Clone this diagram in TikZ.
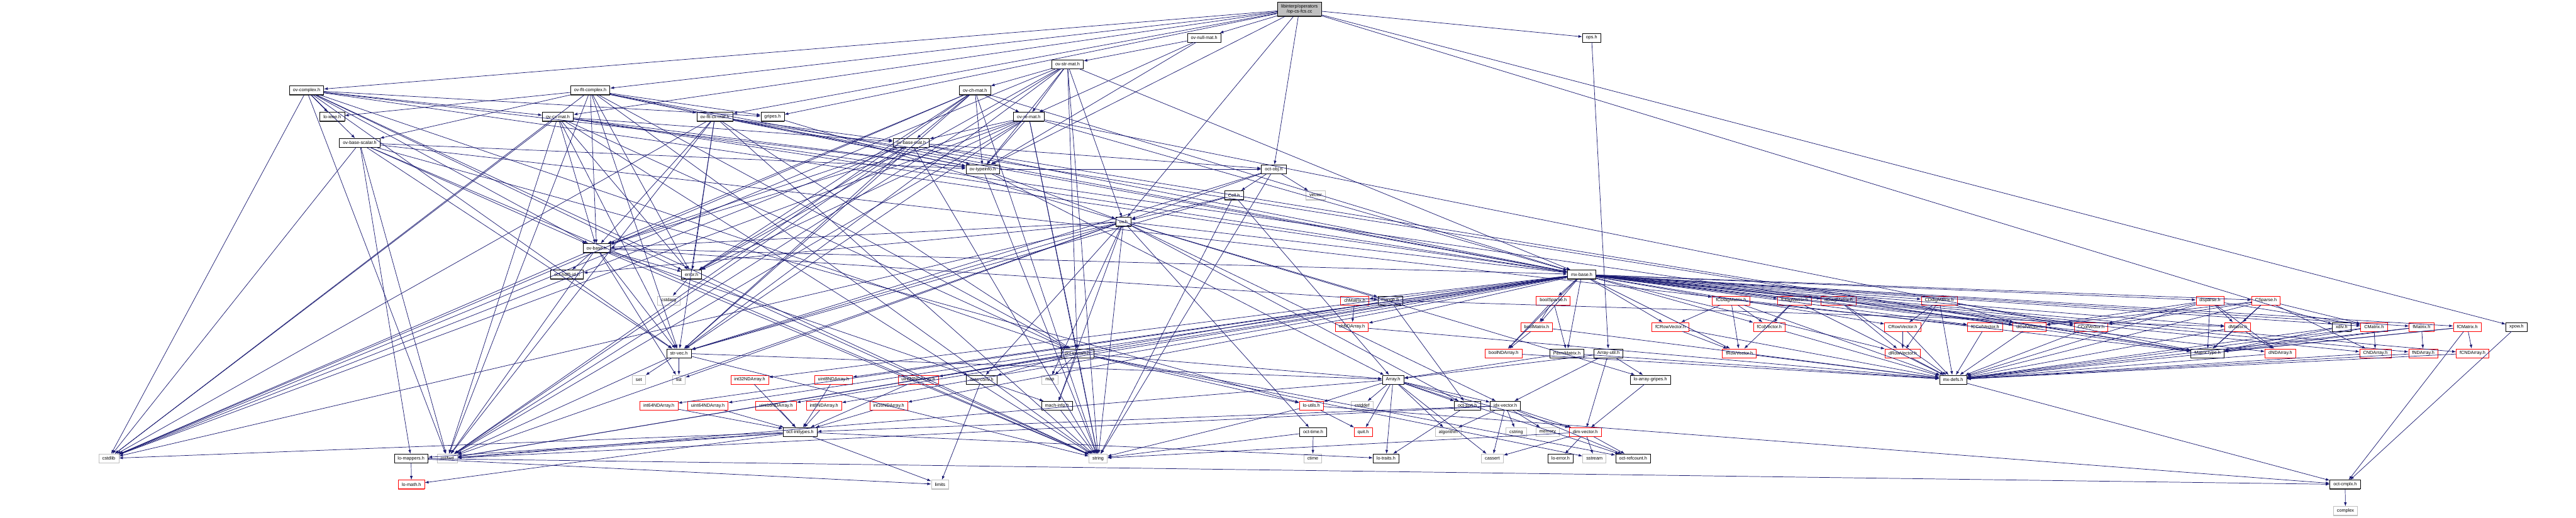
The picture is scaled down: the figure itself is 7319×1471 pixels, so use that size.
\documentclass[tikz,border=0pt]{standalone}
\usepackage{fontspec}
\setmainfont{Liberation Sans}
\usetikzlibrary{arrows.meta}
\definecolor{cedge}{HTML}{191970}
\definecolor{cgrey}{HTML}{BFBFBF}
\definecolor{cred}{HTML}{FF0000}
\tikzset{
  file/.style={draw=black, fill=white, line width=1.2pt, minimum height=25pt,
    inner xsep=10pt, inner ysep=2pt, font=\fontsize{13}{15}\selectfont,
    append after command={\pgfextra{\draw[line width=2.4pt, black!70]
      (\tikzlastnode.south west) -- (\tikzlastnode.south east);}}},
  trunc/.style={draw=cred, fill=white, line width=1.2pt, minimum height=25pt,
    inner xsep=10pt, inner ysep=2pt, font=\fontsize{13}{15}\selectfont,
    append after command={\pgfextra{\draw[line width=2.4pt, cred!70]
      (\tikzlastnode.south west) -- (\tikzlastnode.south east);}}},
  sys/.style={draw=cgrey, fill=white, line width=1.2pt, minimum height=25pt,
    inner xsep=10pt, inner ysep=2pt, font=\fontsize{13}{15}\selectfont,
    append after command={\pgfextra{\draw[line width=2.4pt, cgrey]
      (\tikzlastnode.south west) -- (\tikzlastnode.south east);}}},
  topfile/.style={file, fill=cgrey, align=center, minimum height=40pt},
  dep/.style={cedge, line width=1.3pt, -{Latex[length=11pt,width=8pt]}}
}
\begin{document}
\begin{tikzpicture}[x=1pt, y=-1pt]
\useasboundingbox (0,0) rectangle (7319,1471);
%% the file itself
\node[topfile] (root) at (3692,26) {libinterp/operators\\/op-cs-fcs.cc};
%% octave value headers
\node[file] (ovnullmat) at (3421,107) {ov-null-mat.h};
\node[file] (ops) at (4522,107) {ops.h};
\node[file] (ovstrmat) at (3033,182) {ov-str-mat.h};
\node[file] (ovcomplex) at (871,257) {ov-complex.h};
\node[file] (ovfltcomplex) at (1677,257) {ov-flt-complex.h};
\node[file] (ovchmat) at (2770,257) {ov-ch-mat.h};
\node[file] (loieee) at (944,332) {lo-ieee.h};
\node[file] (ovcxmat) at (1585,332) {ov-cx-mat.h};
\node[file] (ovfltcxmat) at (2031,332) {ov-flt-cx-mat.h};
\node[file] (gripes) at (2195,332) {gripes.h};
\node[file] (ovremat) at (2923,332) {ov-re-mat.h};
\node[file] (ovbasescalar) at (1022,406) {ov-base-scalar.h};
\node[file] (ovbasemat) at (2589,406) {ov-base-mat.h};
\node[file] (ovtypeinfo) at (2792,481) {ov-typeinfo.h};
\node[file] (octobj) at (3619,481) {oct-obj.h};
\node[file] (cell) at (3506,555) {Cell.h};
\node[sys] (vector) at (3738,555) {vector};
\node[file] (ov) at (3192,630) {ov.h};
\node[file] (ovbase) at (1695,705) {ov-base.h};
\node[file] (octhdf) at (1611,780) {oct-hdf5-id.h};
\node[file] (errorh) at (1965,780) {error.h};
\node[file] (mxbase) at (4494,780) {mx-base.h};
\node[sys] (cstdarg) at (1900,854) {cstdarg};
%% matrix classes
\node[trunc] (chMatrix) at (3849,854) {chMatrix.h};
\node[file] (Range) at (3950,854) {Range.h};
\node[trunc] (boolSparse) at (4413,854) {boolSparse.h};
\node[trunc] (fCDiagMatrix) at (4918,854) {fCDiagMatrix.h};
\node[trunc] (fDiagMatrix) at (5099,854) {fDiagMatrix.h};
\node[trunc] (dDiagMatrix) at (5224,854) {dDiagMatrix.h};
\node[trunc] (CDiagMatrix) at (5510,854) {CDiagMatrix.h};
\node[trunc] (dSparse) at (6279,854) {dSparse.h};
\node[trunc] (CSparse) at (6438,854) {CSparse.h};
\node[trunc] (chNDArray) at (3841,929) {chNDArray.h};
\node[trunc] (boolMatrix) at (4366,929) {boolMatrix.h};
\node[trunc] (fCRowVector) at (4746,929) {fCRowVector.h};
\node[trunc] (fColVector) at (5027,929) {fColVector.h};
\node[trunc] (CRowVector) at (5406,929) {CRowVector.h};
\node[trunc] (fCColVector) at (5640,929) {fCColVector.h};
\node[trunc] (dColVector) at (5766,929) {dColVector.h};
\node[trunc] (CColVector) at (5941,929) {CColVector.h};
\node[trunc] (dMatrix) at (6358,929) {dMatrix.h};
\node[file] (xdiv) at (6653,929) {xdiv.h};
\node[trunc] (CMatrix) at (6745,929) {CMatrix.h};
\node[trunc] (fMatrix) at (6880,929) {fMatrix.h};
\node[trunc] (fCMatrix) at (7010,929) {fCMatrix.h};
\node[file] (xpow) at (7150,929) {xpow.h};
\node[file] (strvec) at (1929,1004) {str-vec.h};
\node[file] (octstream) at (3061,1004) {oct-stream.h};
\node[trunc] (boolNDArray) at (4272,1004) {boolNDArray.h};
\node[file] (PermMatrix) at (4452,1004) {PermMatrix.h};
\node[file] (Arrayutil) at (4570,1004) {Array-util.h};
\node[trunc] (fRowVector) at (4942,1004) {fRowVector.h};
\node[trunc] (dRowVector) at (5406,1004) {dRowVector.h};
\node[file] (MatrixType) at (6272,1004) {MatrixType.h};
\node[trunc] (dNDArray) at (6479,1004) {dNDArray.h};
\node[trunc] (CNDArray) at (6749,1004) {CNDArray.h};
\node[trunc] (fNDArray) at (6885,1004) {fNDArray.h};
\node[trunc] (fCNDArray) at (7025,1004) {fCNDArray.h};
%% integer arrays and liboctave utilities
\node[sys] (setn) at (1815,1079) {set};
\node[sys] (listn) at (1929,1079) {list};
\node[trunc] (int32) at (2130,1079) {int32NDArray.h};
\node[trunc] (uint8) at (2368,1079) {uint8NDArray.h};
\node[trunc] (uint32) at (2609,1079) {uint32NDArray.h};
\node[file] (dataconv) at (2789,1079) {data-conv.h};
\node[sys] (mapn) at (2983,1079) {map};
\node[file] (Array) at (3958,1079) {Array.h};
\node[file] (loarraygripes) at (4689,1079) {lo-array-gripes.h};
\node[file] (mxdefs) at (5549,1079) {mx-defs.h};
\node[trunc] (int64) at (1872,1153) {int64NDArray.h};
\node[trunc] (uint64) at (2011,1153) {uint64NDArray.h};
\node[trunc] (uint16) at (2205,1153) {uint16NDArray.h};
\node[trunc] (int8) at (2341,1153) {int8NDArray.h};
\node[trunc] (int16) at (2525,1153) {int16NDArray.h};
\node[file] (machinfo) at (3003,1153) {mach-info.h};
\node[trunc] (loutils) at (3726,1153) {lo-utils.h};
\node[sys] (cstddef) at (3870,1153) {cstddef};
\node[file] (octsort) at (4169,1153) {oct-sort.h};
\node[file] (idxvector) at (4277,1153) {idx-vector.h};
\node[file] (octinttypes) at (2273,1228) {oct-inttypes.h};
\node[file] (octtime) at (3731,1228) {oct-time.h};
\node[trunc] (quit) at (3873,1228) {quit.h};
\node[sys] (algorithmn) at (4115,1228) {algorithm};
\node[sys] (cstring) at (4308,1228) {cstring};
\node[sys] (memoryn) at (4397,1228) {memory};
\node[trunc] (dimvector) at (4504,1228) {dim-vector.h};
\node[sys] (cstdlib) at (309,1303) {cstdlib};
\node[file] (lomappers) at (1168,1303) {lo-mappers.h};
\node[sys] (iosfwd) at (1271,1303) {iosfwd};
\node[sys] (stringn) at (3120,1303) {string};
\node[sys] (ctime) at (3730,1303) {ctime};
\node[file] (lotraits) at (3938,1303) {lo-traits.h};
\node[sys] (cassert) at (4240,1303) {cassert};
\node[file] (loerror) at (4434,1303) {lo-error.h};
\node[sys] (sstream) at (4530,1303) {sstream};
\node[file] (octrefcount) at (4640,1303) {oct-refcount.h};
\node[trunc] (lomath) at (1169,1377) {lo-math.h};
\node[sys] (limits) at (2671,1377) {limits};
\node[file] (octcmplx) at (6663,1377) {oct-cmplx.h};
\node[sys] (complexn) at (6664,1452) {complex};
%% include edges
\foreach \t in {ovnullmat,ops,ovcomplex,ovfltcomplex,ovcxmat,ovfltcxmat,gripes,ovtypeinfo,octobj,ov,xdiv,xpow}
  \draw[dep] (root) -- (\t);
\foreach \t in {ovstrmat,ovremat,ovtypeinfo}
  \draw[dep] (ovnullmat) -- (\t);
\draw[dep] (ops) -- (Arrayutil);
\foreach \t in {cstdlib,iosfwd,stringn,mxbase,strvec,errorh,octstream,ov,ovchmat,ovremat,ovtypeinfo}
  \draw[dep] (ovstrmat) -- (\t);
\foreach \t in {cstdlib,iosfwd,stringn,loieee,mxbase,strvec,gripes,errorh,octstream,ovbase,ovcxmat,ovbasescalar,ovtypeinfo}
  \draw[dep] (ovcomplex) -- (\t);
\foreach \t in {cstdlib,iosfwd,stringn,loieee,mxbase,strvec,gripes,errorh,octstream,ovbase,ovfltcxmat,ovbasescalar,ovtypeinfo}
  \draw[dep] (ovfltcomplex) -- (\t);
\foreach \t in {cstdlib,iosfwd,stringn,mxbase,strvec,errorh,ovbase,ovbasemat,ovremat,ovtypeinfo}
  \draw[dep] (ovchmat) -- (\t);
\foreach \s in {ovcxmat,ovfltcxmat,ovremat}
  \foreach \t in {cstdlib,iosfwd,stringn,mxbase,strvec,errorh,octstream,ovbase,ovbasemat,ovtypeinfo,MatrixType}
    \draw[dep] (\s) -- (\t);
\draw[dep] (gripes) -- (loarraygripes);
\foreach \t in {cstdlib,iosfwd,stringn,lomappers,loutils,strvec,MatrixType,ovbase,ovtypeinfo}
  \draw[dep] (ovbasescalar) -- (\t);
\foreach \t in {cstdlib,iosfwd,stringn,mxbase,MatrixType,strvec,errorh,octobj,ovbase,ovtypeinfo}
  \draw[dep] (ovbasemat) -- (\t);
\foreach \t in {stringn,Array,octobj,ov}
  \draw[dep] (ovtypeinfo) -- (\t);
\foreach \t in {stringn,vector,strvec,cell,ov}
  \draw[dep] (octobj) -- (\t);
\foreach \t in {stringn,Array,strvec,ov}
  \draw[dep] (cell) -- (\t);
\foreach \t in {cstdlib,iosfwd,stringn,listn,mapn,Range,dataconv,idxvector,machinfo,mxbase,octtime,strvec,octhdf,octsort,ovbase}
  \draw[dep] (ov) -- (\t);
\foreach \t in {cstdlib,iosfwd,listn,stringn,Range,dataconv,mxbase,strvec,errorh,octhdf}
  \draw[dep] (ovbase) -- (\t);
\foreach \t in {cstdarg,stringn}
  \draw[dep] (errorh) -- (\t);
\foreach \t in {boolMatrix,chMatrix,dMatrix,CMatrix,fMatrix,fCMatrix,dColVector,CColVector,fColVector,fCColVector,dRowVector,CRowVector,fRowVector,fCRowVector,dDiagMatrix,CDiagMatrix,fDiagMatrix,fCDiagMatrix,PermMatrix,boolSparse,dSparse,CSparse,boolNDArray,chNDArray,dNDArray,CNDArray,fNDArray,fCNDArray,int8,int16,int32,int64,uint8,uint16,uint32,uint64}
  \draw[dep] (mxbase) -- (\t);
\draw[dep] (chMatrix) -- (chNDArray);
\foreach \t in {iosfwd,dMatrix,octsort}
  \draw[dep] (Range) -- (\t);
\foreach \t in {boolMatrix,boolNDArray,PermMatrix}
  \draw[dep] (boolSparse) -- (\t);
\draw[dep] (boolMatrix) -- (boolNDArray);
\foreach \t in {fCRowVector,fCColVector,fRowVector,fColVector}
  \draw[dep] (fCDiagMatrix) -- (\t);
\foreach \t in {fRowVector,fColVector}
  \draw[dep] (fDiagMatrix) -- (\t);
\foreach \t in {dRowVector,dColVector}
  \draw[dep] (dDiagMatrix) -- (\t);
\foreach \t in {CRowVector,CColVector,dRowVector,dColVector}
  \draw[dep] (CDiagMatrix) -- (\t);
\foreach \t in {dMatrix,dNDArray,dColVector,CColVector,MatrixType,CMatrix}
  \draw[dep] (dSparse) -- (\t);
\foreach \t in {CMatrix,dMatrix,CNDArray,CColVector,dColVector,MatrixType}
  \draw[dep] (CSparse) -- (\t);
\draw[dep] (fCRowVector) -- (fRowVector);
\draw[dep] (CRowVector) -- (dRowVector);
\foreach \t in {MatrixType,dNDArray}
  \draw[dep] (dMatrix) -- (\t);
\foreach \t in {MatrixType,CNDArray}
  \draw[dep] (CMatrix) -- (\t);
\foreach \t in {MatrixType,fNDArray}
  \draw[dep] (fMatrix) -- (\t);
\foreach \t in {MatrixType,fCNDArray,octcmplx}
  \draw[dep] (fCMatrix) -- (\t);
\foreach \t in {MatrixType,mxdefs}
  \draw[dep] (xdiv) -- (\t);
\draw[dep] (xpow) -- (octcmplx);
\foreach \s in {fCDiagMatrix,fDiagMatrix,dDiagMatrix,CDiagMatrix,dSparse,CSparse,fCRowVector,fColVector,CRowVector,fCColVector,dColVector,CColVector,dMatrix,CMatrix,fMatrix,fCMatrix,boolNDArray,PermMatrix,fRowVector,dRowVector,dNDArray,CNDArray,fNDArray,fCNDArray,boolMatrix,chNDArray}
  \draw[dep] (\s) -- (mxdefs);
\foreach \t in {iosfwd,setn,listn,stringn,Array}
  \draw[dep] (strvec) -- (\t);
\foreach \t in {iosfwd,sstream,stringn,mapn,Array,dataconv,loutils,machinfo,octrefcount}
  \draw[dep] (octstream) -- (\t);
\draw[dep] (PermMatrix) -- (Array);
\foreach \t in {Array,dimvector,idxvector,loarraygripes}
  \draw[dep] (Arrayutil) -- (\t);
\foreach \s in {int8,int16,int32,int64,uint8,uint16,uint32,uint64}
  \draw[dep] (\s) -- (octinttypes);
\foreach \t in {limits,machinfo}
  \draw[dep] (dataconv) -- (\t);
\draw[dep] (machinfo) -- (stringn);
\foreach \t in {cassert,cstddef,algorithmn,iosfwd,dimvector,idxvector,lotraits,loutils,octsort,quit,octrefcount}
  \draw[dep] (Array) -- (\t);
\draw[dep] (loarraygripes) -- (dimvector);
\draw[dep] (mxdefs) -- (octcmplx);
\foreach \t in {quit,stringn,octcmplx}
  \draw[dep] (loutils) -- (\t);
\draw[dep] (octsort) -- (lotraits);
\foreach \t in {cassert,cstring,algorithmn,iosfwd,memoryn,dimvector,octinttypes,octrefcount}
  \draw[dep] (idxvector) -- (\t);
\foreach \t in {limits,iosfwd,cstdlib,lotraits,lomath,lomappers}
  \draw[dep] (octinttypes) -- (\t);
\foreach \t in {ctime,stringn}
  \draw[dep] (octtime) -- (\t);
\foreach \t in {cassert,sstream,stringn,loerror,octrefcount}
  \draw[dep] (dimvector) -- (\t);
\foreach \t in {limits,octcmplx,lomath}
  \draw[dep] (lomappers) -- (\t);
\draw[dep] (octcmplx) -- (complexn);
\end{tikzpicture}
\end{document}
